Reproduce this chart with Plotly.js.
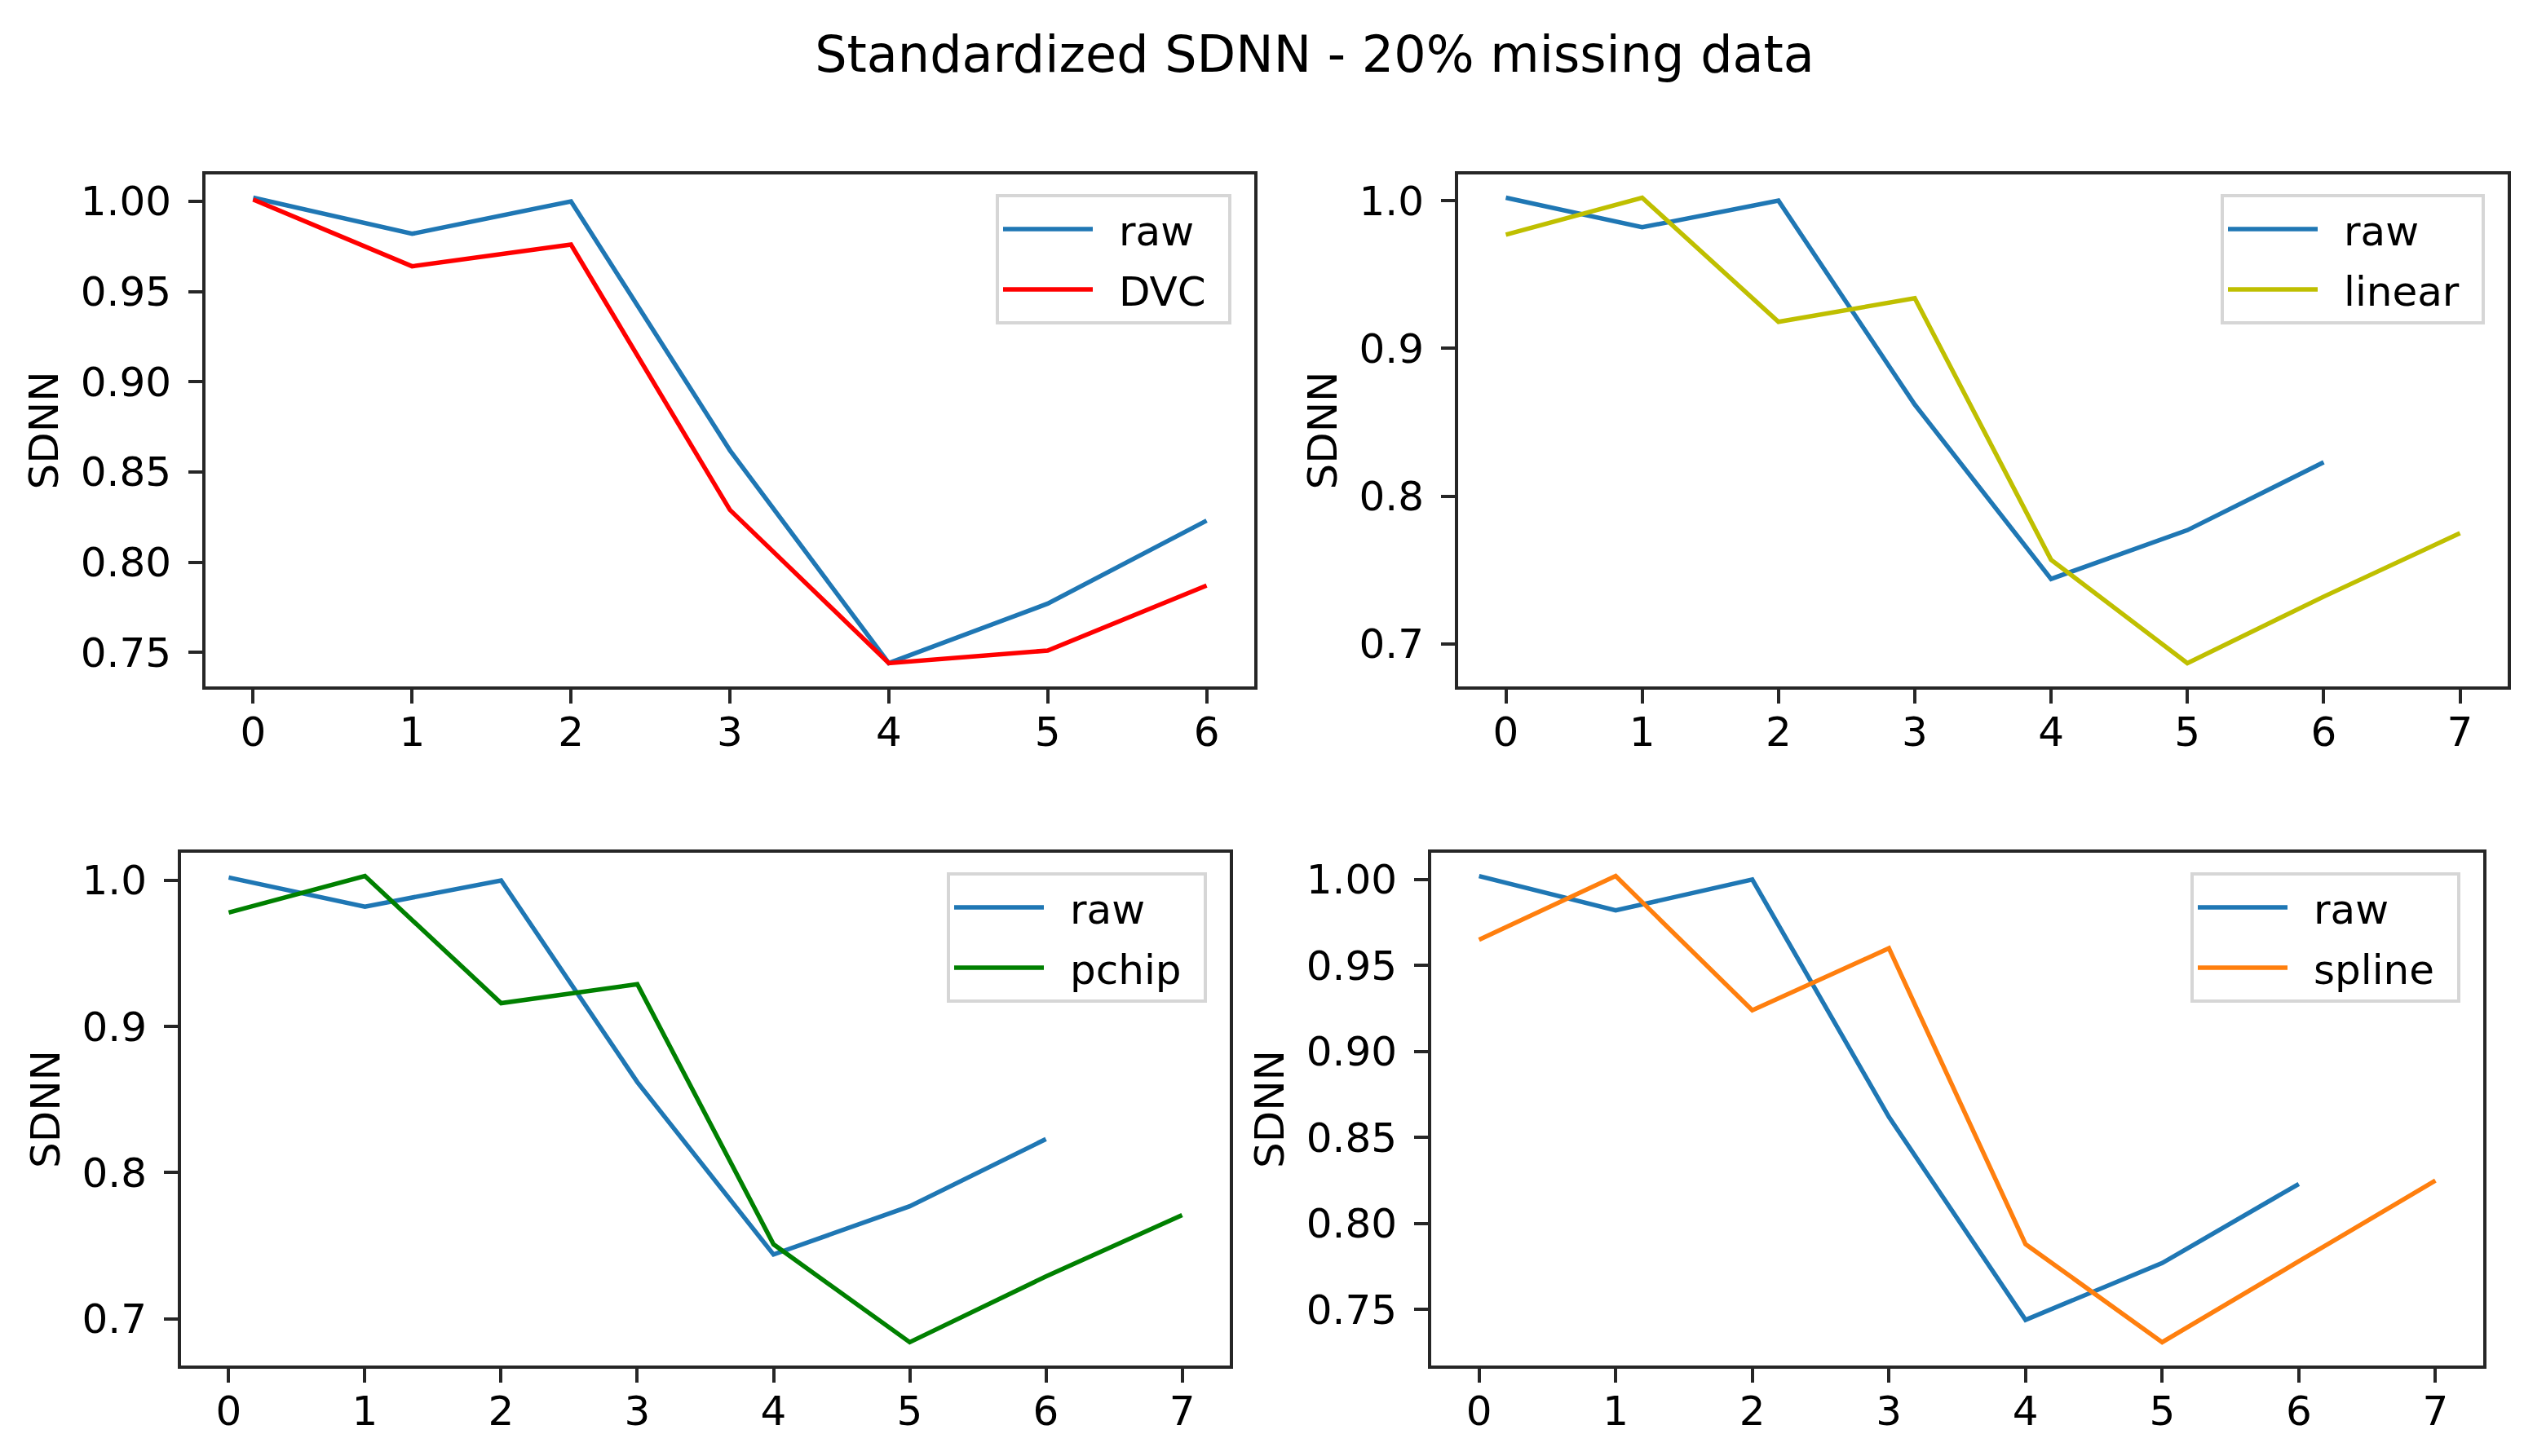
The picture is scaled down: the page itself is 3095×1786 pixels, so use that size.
<!DOCTYPE html>
<html>
<head>
<meta charset="utf-8">
<script src="https://cdn.plot.ly/plotly-3.0.1.min.js"></script>
<style>html,body{margin:0;padding:0;background:#fff;}#chart{width:3095px;height:1786px;}</style>
</head>
<body>
<div id="chart"></div>
<script>
// ---- data ----
const xRaw = [0, 1, 2, 3, 4, 5, 6];
const xImp = [0, 1, 2, 3, 4, 5, 6, 7];
const rawSDNN    = [1.002, 0.982, 1.000, 0.862, 0.744, 0.777, 0.823];
const dvcSDNN    = [1.001, 0.964, 0.976, 0.829, 0.744, 0.751, 0.787];
const linearSDNN = [0.977, 1.002, 0.918, 0.934, 0.757, 0.687, 0.732, 0.775];
const pchipSDNN  = [0.978, 1.003, 0.916, 0.929, 0.751, 0.684, 0.729, 0.771];
const splineSDNN = [0.965, 1.002, 0.924, 0.960, 0.788, 0.731, 0.778, 0.825];
const seriesNames = ["raw", "DVC", "linear", "pchip", "spline"];
const chartTitle = "Standardized SDNN - 20% missing data";
const yLabel = "SDNN";

// ---- layout helpers ----
const W = 3095, H = 1786;
const FONT = "DejaVu Sans";
const colors = {raw: "#1f77b4", DVC: "#ff0000", linear: "#bfbf00", pchip: "#008000", spline: "#ff7f0e"};

// panel boxes in pixels: [left, right, top, bottom]
const panels = [
  {box: [252, 1538, 214, 842], other: dvcSDNN, otherX: xRaw, name: "DVC", dtick: 0.05, fmt: ".2f"},
  {box: [1788, 3075, 214, 842], other: linearSDNN, otherX: xImp, name: "linear", dtick: 0.1, fmt: ".1f"},
  {box: [222, 1508, 1046, 1675], other: pchipSDNN, otherX: xImp, name: "pchip", dtick: 0.1, fmt: ".1f"},
  {box: [1755, 3045, 1046, 1675], other: splineSDNN, otherX: xImp, name: "spline", dtick: 0.05, fmt: ".2f"}
];

function padRange(vals) {
  const lo = Math.min(...vals), hi = Math.max(...vals);
  const m = (hi - lo) * 0.05;
  return [lo - m, hi + m];
}

const traces = [];
const layout = {
  width: W, height: H,
  margin: {l: 0, r: 0, t: 0, b: 0},
  paper_bgcolor: "#ffffff",
  plot_bgcolor: "#ffffff",
  showlegend: true,
  font: {family: FONT, size: 50, color: "#000000"},
  title: {
    text: chartTitle,
    font: {family: FONT, size: 62, color: "#000000"},
    x: 1612 / W, xanchor: "center", xref: "paper",
    y: 1 - 66 / H, yanchor: "middle", yref: "paper"
  }
};

panels.forEach((p, i) => {
  const k = i === 0 ? "" : String(i + 1);
  const xa = "x" + k, ya = "y" + k;
  const lg = "legend" + k;
  traces.push({
    x: xRaw, y: rawSDNN, type: "scatter", mode: "lines", name: seriesNames[0],
    legendgroup: "a" + i,
    line: {color: colors.raw, width: 5.5}, xaxis: xa, yaxis: ya, legend: lg
  });
  traces.push({
    x: p.otherX, y: p.other, type: "scatter", mode: "lines", name: p.name,
    legendgroup: "b" + i,
    line: {color: colors[p.name], width: 5.5}, xaxis: xa, yaxis: ya, legend: lg
  });
  const [l, r, t, b] = p.box;
  const allX = p.otherX.length > xRaw.length ? p.otherX : xRaw;
  const axCommon = {
    showline: true, linecolor: "#262626", linewidth: 4, mirror: true,
    ticks: "outside", ticklen: 17, tickwidth: 4, tickcolor: "#262626",
    showgrid: false, zeroline: false,
    tickfont: {family: FONT, size: 50, color: "#000000"}
  };
  layout["xaxis" + k] = Object.assign({}, axCommon, {
    domain: [l / W, r / W], anchor: ya,
    range: padRange(allX), tickmode: "linear", tick0: 0, dtick: 1,
    ticklabelstandoff: -8
  });
  layout["yaxis" + k] = Object.assign({}, axCommon, {
    domain: [1 - b / H, 1 - t / H], anchor: xa,
    range: padRange(rawSDNN.concat(p.other)),
    tickmode: "linear", tick0: 0, dtick: p.dtick, tickformat: p.fmt,
    ticklabelstandoff: 11,
    title: {text: yLabel, font: {family: FONT, size: 50, color: "#000000"}, standoff: 12}
  });
  layout[lg] = {
    x: (r - 28) / W, xanchor: "right", xref: "paper",
    y: 1 - (t + 24) / H, yanchor: "top", yref: "paper",
    bgcolor: "#ffffff", bordercolor: "#d6d6d6", borderwidth: 4,
    font: {family: FONT, size: 50, color: "#000000"},
    itemwidth: 110, tracegroupgap: 6, traceorder: "grouped"
  };
});

// widen the gap between legend line sample and label, and the right padding, as in the reference
const GAP = 27, RIGHT_PAD = 22, EXTRA = GAP + RIGHT_PAD;
function adjustLegends() {
  const gd = document.getElementById("chart");
  const roots = Array.from(gd.querySelectorAll("g")).filter(g => /^legend\d*$/.test((g.getAttribute("class") || "").trim()));
  roots.forEach(leg => {
    const texts = leg.querySelectorAll("text");
    const rects = leg.querySelectorAll("rect");
    texts.forEach(t => t.setAttribute("transform", "translate(" + GAP + ",0)"));
    if (leg.getAttribute("data-adj") === "1") return;
    leg.setAttribute("data-adj", "1");
    const bg = leg.querySelector("rect.bg") || rects[0];
    if (bg) bg.setAttribute("width", parseFloat(bg.getAttribute("width")) + EXTRA);
    const sb = leg.querySelector("g.scrollbox");
    if (sb) {
      const cp = sb.getAttribute("clip-path");
      const m = cp && cp.match(/#([^)'"]+)/);
      if (m) {
        const clip = document.getElementById(m[1]);
        const cr = clip && clip.querySelector("rect");
        if (cr) cr.setAttribute("width", parseFloat(cr.getAttribute("width")) + EXTRA);
      }
    }
    const tr = leg.getAttribute("transform") || "";
    const mm = tr.match(/translate\(\s*([-\d.e]+)[ ,]+([-\d.e]+)\s*\)/);
    if (mm) leg.setAttribute("transform", "translate(" + (parseFloat(mm[1]) - EXTRA) + "," + mm[2] + ")");
  });
}

Plotly.newPlot("chart", traces, layout, {staticPlot: true, displayModeBar: false}).then(() => {
  adjustLegends();
  setTimeout(adjustLegends, 50);
  setTimeout(adjustLegends, 300);
});
</script>
</body>
</html>
